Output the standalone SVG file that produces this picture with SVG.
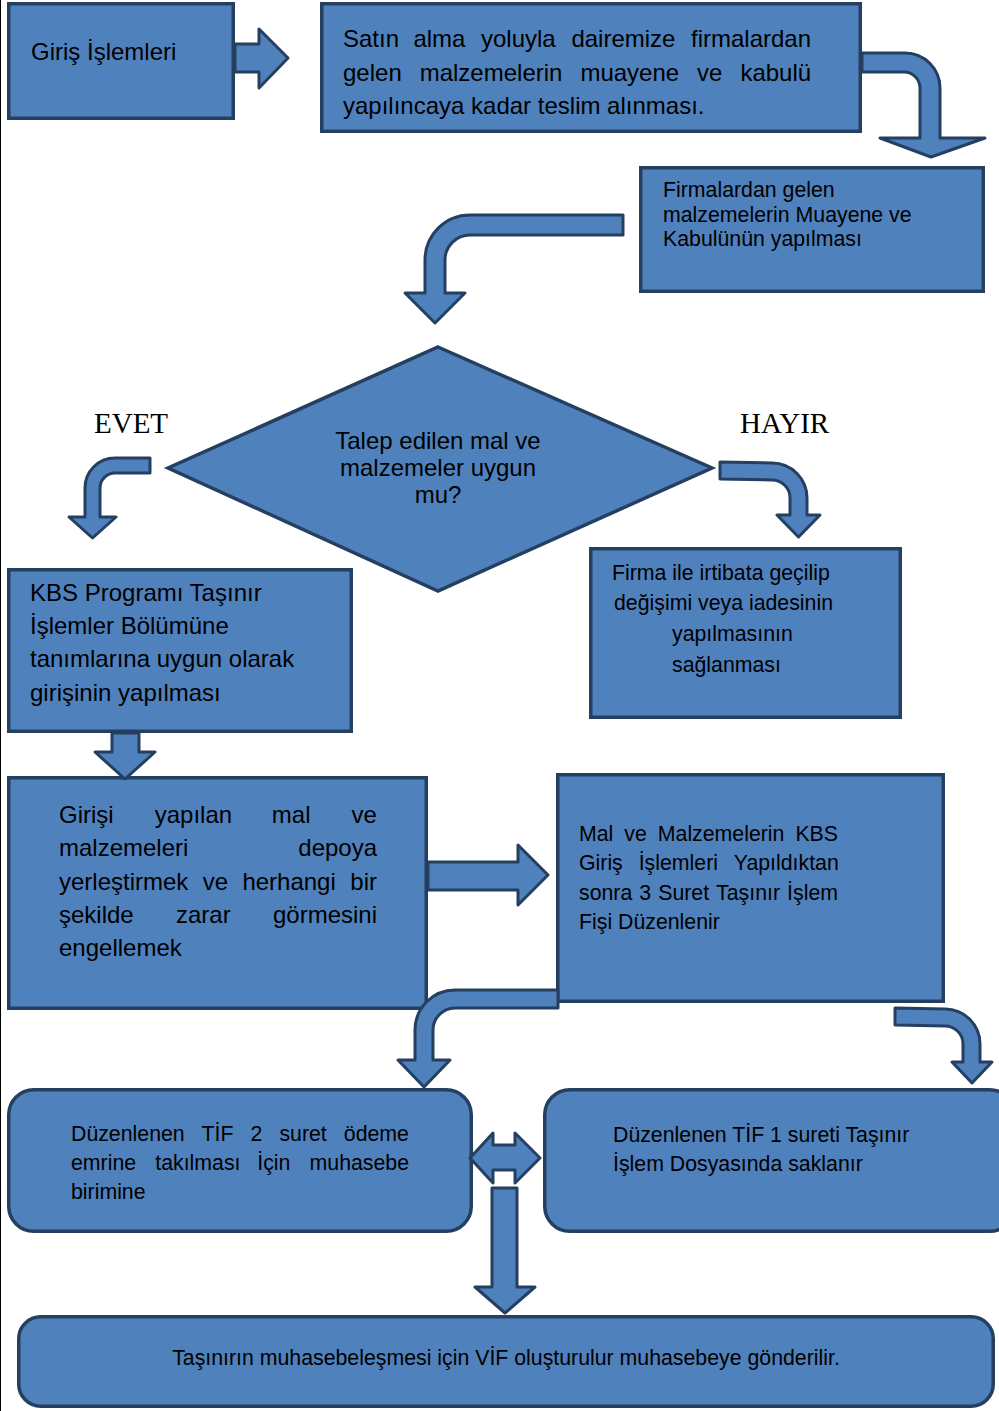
<svg xmlns="http://www.w3.org/2000/svg" width="999" height="1411" viewBox="0 0 999 1411">
<style>
.box{fill:#4F81BD;stroke:#243F60;stroke-width:3.5}
.arr{fill:#4F81BD;stroke:#243F60;stroke-width:3;stroke-linejoin:round}
.t24{font-family:"Liberation Sans",Arial,sans-serif;font-size:24px;fill:#000}
.t21{font-family:"Liberation Sans",Arial,sans-serif;font-size:21.3px;fill:#000}
.ser{font-family:"Liberation Serif","Times New Roman",serif;font-size:29px;fill:#000}
</style>
<rect width="999" height="1411" fill="#fff"/>
<line x1="0.5" y1="0" x2="0.5" y2="1411" stroke="#000" stroke-width="1"/>
<g id="giris">
<rect class="box" x="8.75" y="3.75" width="224.5" height="114.5"/>
<text class="t24" x="31" y="60">Giriş İşlemleri</text>
</g>
<g id="satin-alma">
<rect class="box" x="321.75" y="3.75" width="538.5" height="127.5"/>
<text class="t24" y="47"><tspan x="343">Satın</tspan><tspan x="413.4">alma</tspan><tspan x="481">yoluyla</tspan><tspan x="571.4">dairemize</tspan><tspan x="691">firmalardan</tspan></text>
<text class="t24" y="80.5"><tspan x="343">gelen</tspan><tspan x="419.7">malzemelerin</tspan><tspan x="580.4">muayene</tspan><tspan x="697.1">ve</tspan><tspan x="740.4">kabulü</tspan></text>
<text class="t24" x="343" y="114">yapılıncaya kadar teslim alınması.</text>
</g>
<g id="muayene">
<rect class="box" x="640.75" y="167.75" width="342.5" height="123.5"/>
<text class="t21" x="663" y="197">Firmalardan gelen</text>
<text class="t21" x="663" y="221.5">malzemelerin Muayene ve</text>
<text class="t21" x="663" y="246">Kabulünün yapılması</text>
</g>
<g id="karar">
<polygon class="box" points="438,347 712,468 438,591 168,468"/>
<text class="t24" x="438" y="449" text-anchor="middle">Talep edilen mal ve</text>
<text class="t24" x="438" y="476" text-anchor="middle">malzemeler uygun</text>
<text class="t24" x="438" y="503" text-anchor="middle">mu?</text>
</g>
<g id="evet-label"><text class="ser" x="94" y="433">EVET</text></g>
<g id="hayir-label"><text class="ser" x="740" y="433">HAYIR</text></g>
<g id="kbs">
<rect class="box" x="8.75" y="569.75" width="342.5" height="161.5"/>
<text class="t24" x="30" y="601">KBS Programı Taşınır</text>
<text class="t24" x="30" y="634">İşlemler Bölümüne</text>
<text class="t24" x="30" y="667">tanımlarına uygun olarak</text>
<text class="t24" x="30" y="701">girişinin yapılması</text>
</g>
<g id="firma">
<rect class="box" x="590.75" y="548.75" width="309.5" height="168.5"/>
<text class="t21" x="612" y="580">Firma ile irtibata geçilip</text>
<text class="t21" x="614" y="610">değişimi veya iadesinin</text>
<text class="t21" x="672" y="641">yapılmasının</text>
<text class="t21" x="672" y="672">sağlanması</text>
</g>
<g id="depo">
<rect class="box" x="8.75" y="777.75" width="417.5" height="230.5"/>
<text class="t24" y="823"><tspan x="59">Girişi</tspan><tspan x="154.7">yapılan</tspan><tspan x="271.8">mal</tspan><tspan x="351.6">ve</tspan></text>
<text class="t24" y="856"><tspan x="59">malzemeleri</tspan><tspan x="298.3">depoya</tspan></text>
<text class="t24" y="890"><tspan x="59">yerleştirmek</tspan><tspan x="202.7">ve</tspan><tspan x="242.4">herhangi</tspan><tspan x="350.3">bir</tspan></text>
<text class="t24" y="923"><tspan x="59">şekilde</tspan><tspan x="176">zarar</tspan><tspan x="273">görmesini</tspan></text>
<text class="t24" x="59" y="956">engellemek</text>
</g>
<g id="tif-duzenle">
<rect class="box" x="557.75" y="774.75" width="385.5" height="226.5"/>
<text class="t21" y="841"><tspan x="579">Mal</tspan><tspan x="624.3">ve</tspan><tspan x="657.8">Malzemelerin</tspan><tspan x="795.4">KBS</tspan></text>
<text class="t21" y="870"><tspan x="579">Giriş</tspan><tspan x="638.7">İşlemleri</tspan><tspan x="733.8">Yapıldıktan</tspan></text>
<text class="t21" y="900"><tspan x="579">sonra</tspan><tspan x="639.3">3</tspan><tspan x="658.2">Suret</tspan><tspan x="716.1">Taşınır</tspan><tspan x="787.1">İşlem</tspan></text>
<text class="t21" x="579" y="929">Fişi Düzenlenir</text>
</g>
<g id="tif2">
<rect class="box" x="8.75" y="1089.75" width="462.5" height="141.5" rx="25"/>
<text class="t21" y="1141"><tspan x="71">Düzenlenen</tspan><tspan x="201.6">TİF</tspan><tspan x="250.6">2</tspan><tspan x="279.4">suret</tspan><tspan x="343.8">ödeme</tspan></text>
<text class="t21" y="1170"><tspan x="71">emrine</tspan><tspan x="155.3">takılması</tspan><tspan x="257.3">İçin</tspan><tspan x="309.6">muhasebe</tspan></text>
<text class="t21" x="71" y="1199">birimine</text>
</g>
<g id="tif1">
<rect class="box" x="544.75" y="1089.75" width="470" height="141.5" rx="25"/>
<text class="t21" x="613" y="1142">Düzenlenen TİF 1 sureti Taşınır</text>
<text class="t21" x="613" y="1171">İşlem Dosyasında saklanır</text>
</g>
<g id="vif">
<rect class="box" x="18.75" y="1316.75" width="974.5" height="89.5" rx="22"/>
<text class="t21" x="506" y="1365" text-anchor="middle" font-size="21.4">Taşınırın muhasebeleşmesi için VİF oluşturulur muhasebeye gönderilir.</text>
</g>
<g id="connectors">
<path class="arr" d="M235,44 H259 V29 L288,58 L259,88 V72 H235 Z"/>
<path class="arr" d="M862,53 H905 A35,35 0 0 1 940,88 V138 H985 L931,157 L880,138 H920 V88 A16,16 0 0 0 904,72 H862 Z"/>
<path class="arr" d="M623,215 H470 A45,45 0 0 0 425,260 V293 H405 L435,323 L465,293 H445 V260 A25,25 0 0 1 470,235 H623 Z"/>
<path class="arr" d="M150,458 H115 A30,30 0 0 0 85,488 V517 H69 L92.5,538 L116,517 H100 V488 A15,15 0 0 1 115,473 H150 Z"/>
<path class="arr" d="M720,462 L772,463 A35,35 0 0 1 807,498 V515 H820 L798.5,537 L777,515 H790 V498 A18,18 0 0 0 772,480 L720,479 Z"/>
<path class="arr" d="M112,733 V752 H95 L125,779 L155,752 H139 V733 Z"/>
<path class="arr" d="M428,862 H518 V845 L548,875 L518,905 V890 H428 Z"/>
<path class="arr" d="M558,990 H455 A40,40 0 0 0 415,1030 V1060 H398 L424,1087 L450,1060 H433 V1030 A22,22 0 0 1 455,1008 H558 Z"/>
<path class="arr" d="M895,1008 L945,1009 A35,35 0 0 1 980,1044 V1062 H992 L972,1083 L952,1062 H963 V1044 A18,18 0 0 0 945,1026 L895,1025 Z"/>
<path class="arr" d="M470,1158 L493,1133 V1145 H515 V1133 L540,1158 L515,1183 V1170 H493 V1183 Z"/>
<path class="arr" d="M492,1188 H517 V1287 H535 L505,1313 L475,1287 H492 Z"/>
</g>
</svg>
